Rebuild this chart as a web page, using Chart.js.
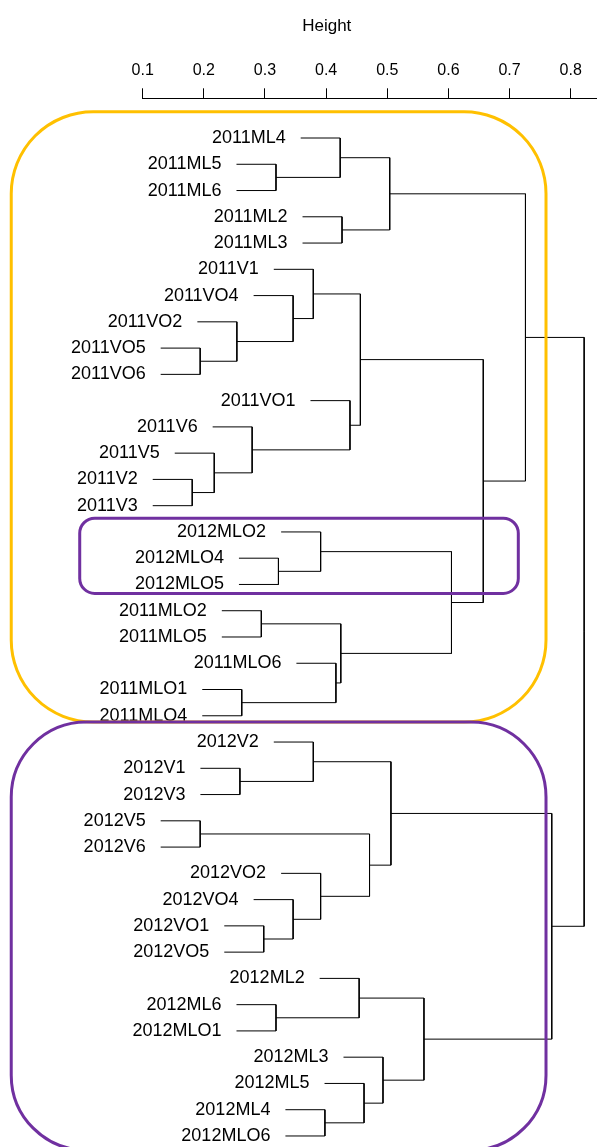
<!DOCTYPE html>
<html>
<head>
<meta charset="utf-8">
<script src="https://cdn.jsdelivr.net/npm/chart.js@4.4.1/dist/chart.umd.min.js"></script>
<style>
  body { margin: 0; background: #fff; }
  #wrap { width: 597px; height: 1147px; }
</style>
</head>
<body>
<div id="wrap"><canvas id="dendro" width="597" height="1147"></canvas></div>
<script>
// leaf labels, top to bottom
const leaves = [
  "2011ML4", "2011ML5", "2011ML6", "2011ML2", "2011ML3",
  "2011V1", "2011VO4", "2011VO2", "2011VO5", "2011VO6",
  "2011VO1", "2011V6", "2011V5", "2011V2", "2011V3",
  "2012MLO2", "2012MLO4", "2012MLO5",
  "2011MLO2", "2011MLO5", "2011MLO6", "2011MLO1", "2011MLO4",
  "2012V2", "2012V1", "2012V3", "2012V5", "2012V6",
  "2012VO2", "2012VO4", "2012VO1", "2012VO5",
  "2012ML2", "2012ML6", "2012MLO1", "2012ML3", "2012ML5", "2012ML4", "2012MLO6"
];

// hclust style merges: negative = leaf number, positive = earlier merge number
const merges = [
  [-2, -3], [-1, 1], [-4, -5], [2, 3],
  [-9, -10], [-8, 5], [-7, 6], [-6, 7],
  [-14, -15], [-13, 9], [-12, 10], [-11, 11], [8, 12],
  [-17, -18], [-16, 14],
  [-19, -20], [-22, -23], [-21, 17], [16, 18],
  [15, 19], [13, 20], [4, 21],
  [-25, -26], [-24, 23], [-27, -28], [-31, -32], [-30, 26], [-29, 27], [25, 28], [24, 29],
  [-34, -35], [-33, 31], [-38, -39], [-37, 33], [-36, 34], [32, 35],
  [30, 36], [22, 37]
];

const heights = [
  0.318, 0.423, 0.426, 0.504,
  0.194, 0.254, 0.346, 0.379,
  0.181, 0.217, 0.279, 0.439, 0.456,
  0.322, 0.391,
  0.294, 0.262, 0.416, 0.424,
  0.605, 0.657, 0.726,
  0.259, 0.379, 0.194, 0.298, 0.346, 0.391, 0.471, 0.506,
  0.318, 0.454, 0.398, 0.462, 0.493, 0.560,
  0.769, 0.822
];

const tickValues = [0.1, 0.2, 0.3, 0.4, 0.5, 0.6, 0.7, 0.8];
const hang = 0.0646;

// rounded boxes around groups (x in height units, y in leaf units)
const highlights = [
  { color: "#FFC000", x0: -0.115, x1: 0.7596, y0: 0.0, y1: 23.24, r: 82 },
  { color: "#7030A0", x0: -0.115, x1: 0.7596, y0: 23.24, y1: 39.54, r: 75 },
  { color: "#7030A0", x0: -0.003, x1: 0.7143, y0: 15.48, y1: 18.34, r: 15 }
];

// build the elbow segments
const nodeY = [];
const leafX = new Array(leaves.length);
const segments = merges.map((pair, k) => {
  const h = heights[k];
  const pts = pair.map(c => {
    if (c < 0) {
      leafX[-c - 1] = h - hang;
      return { x: h - hang, y: -c };
    }
    return { x: heights[c - 1], y: nodeY[c - 1] };
  });
  nodeY[k] = (pts[0].y + pts[1].y) / 2;
  return [pts[0], { x: h, y: pts[0].y }, { x: h, y: pts[1].y }, pts[1]];
});

const FONT = '"Liberation Sans", Arial, sans-serif';

const dendroDecor = {
  id: "dendroDecor",
  afterDraw(chart) {
    const { ctx, scales: { x, y } } = chart;
    ctx.save();
    ctx.fillStyle = "#000";
    ctx.font = "18px " + FONT;
    ctx.textAlign = "right";
    ctx.textBaseline = "middle";
    leaves.forEach((name, i) => {
      ctx.fillText(name, x.getPixelForValue(leafX[i]) - 15, y.getPixelForValue(i + 1));
    });

    ctx.font = "17px " + FONT;
    ctx.textAlign = "center";
    ctx.fillText("Height", x.getPixelForValue(0.401), 26);

    ctx.lineWidth = 3;
    highlights.forEach(b => {
      const l = x.getPixelForValue(b.x0), r = x.getPixelForValue(b.x1);
      const t = y.getPixelForValue(b.y0), bt = y.getPixelForValue(b.y1);
      ctx.strokeStyle = b.color;
      ctx.beginPath();
      ctx.roundRect(l, t, r - l, bt - t, b.r);
      ctx.stroke();
    });
    ctx.restore();
  }
};

new Chart(document.getElementById("dendro"), {
  type: "scatter",
  data: {
    datasets: segments.map(d => ({
      data: d,
      showLine: true,
      borderColor: "#000",
      borderWidth: 1,
      pointRadius: 0,
      tension: 0
    }))
  },
  options: {
    responsive: false,
    animation: false,
    layout: { padding: { left: 142.7, right: 0, top: 0, bottom: 0 } },
    plugins: { legend: { display: false }, tooltip: { enabled: false } },
    scales: {
      x: {
        type: "linear",
        position: "top",
        min: 0.1,
        max: 0.843,
        afterBuildTicks: s => { s.ticks = tickValues.map(v => ({ value: v })); },
        afterFit: s => { s.height = 98.3; },
        ticks: {
          color: "#000",
          font: { size: 16, family: FONT },
          padding: 8,
          maxRotation: 0,
          callback: v => v.toFixed(1)
        },
        grid: { drawOnChartArea: false, drawTicks: true, tickLength: 10, color: "#000" },
        border: { display: true, color: "#000", width: 1 }
      },
      y: {
        type: "linear",
        display: false,
        reverse: true,
        min: -0.512,
        max: 39.42
      }
    }
  },
  plugins: [dendroDecor]
});
</script>
</body>
</html>
